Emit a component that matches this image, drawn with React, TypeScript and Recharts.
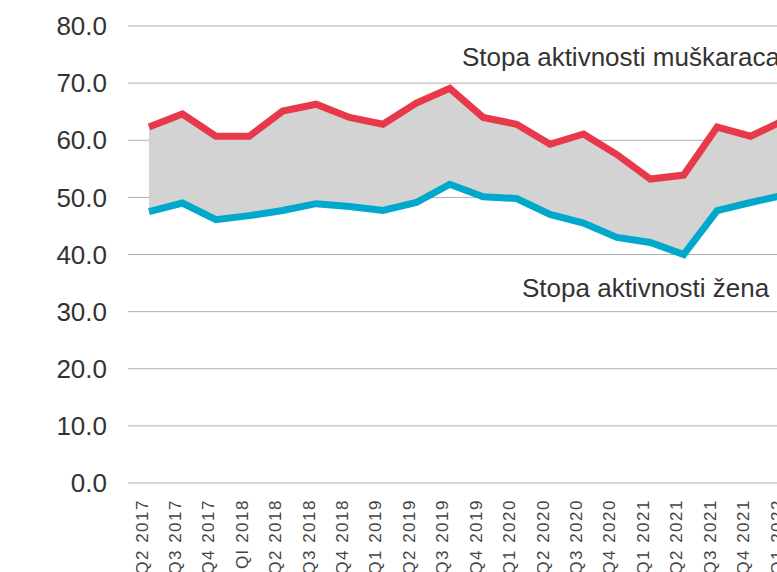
import React from 'react';
import { ComposedChart, Area, Line, XAxis, YAxis, CartesianGrid } from 'recharts';

const quarters = [
  'Q2 2017', 'Q3 2017', 'Q4 2017', 'Ql 2018', 'Q2 2018', 'Q3 2018', 'Q4 2018', 'Q1 2019',
  'Q2 2019', 'Q3 2019', 'Q4 2019', 'Q1 2020', 'Q2 2020', 'Q3 2020', 'Q4 2020', 'Q1 2021',
  'Q2 2021', 'Q3 2021', 'Q4 2021', 'Q1 2022',
];
const menRate = [
  62.3, 64.6, 60.7, 60.7, 65.1, 66.3, 64.0, 62.8, 66.5, 69.1,
  64.0, 62.8, 59.3, 61.1, 57.5, 53.2, 53.9, 62.3, 60.7, 63.5,
];
const womenRate = [
  47.5, 49.0, 46.1, 46.8, 47.7, 48.9, 48.4, 47.7, 49.1, 52.3,
  50.1, 49.8, 47.0, 45.5, 43.0, 42.1, 40.0, 47.7, 49.1, 50.4,
];
const yTicks = [0, 10, 20, 30, 40, 50, 60, 70, 80];

const menLabel = 'Stopa aktivnosti muškaraca';
const womenLabel = 'Stopa aktivnosti žena';

const data = quarters.map((q, i) => ({
  quarter: q,
  men: menRate[i],
  women: womenRate[i],
  gap: [womenRate[i], menRate[i]],
}));

const FONT = '"Liberation Sans", Arial, sans-serif';

const QuarterTick = ({ x, y, payload }: any) => {
  const tx = x - 7;
  return (
    <text
      x={tx}
      y={y}
      transform={`rotate(-90 ${tx} ${y})`}
      textAnchor="end"
      dominantBaseline="central"
      fontSize={17}
      letterSpacing={1.5}
      fill="#444"
      fontFamily={FONT}
    >
      {payload.value}
    </text>
  );
};

const noteStyle: React.CSSProperties = {
  position: 'absolute',
  fontFamily: FONT,
  fontSize: 26,
  lineHeight: '26px',
  color: '#333',
  whiteSpace: 'nowrap',
};

const App: React.FC = () => (
  <div
    style={{
      position: 'fixed',
      left: 0,
      top: 0,
      width: 777,
      height: 572,
      overflow: 'hidden',
      background: '#fff',
      fontFamily: FONT,
    }}
  >
    <ComposedChart
      width={826}
      height={572}
      data={data}
      margin={{ top: 26, right: 21, bottom: 0, left: 0 }}
    >
      <CartesianGrid vertical={false} stroke="#b0b0b0" strokeWidth={1} />
      <XAxis
        dataKey="quarter"
        scale="point"
        padding={{ left: 21, right: 21 }}
        interval={0}
        height={89}
        axisLine={false}
        tickLine={false}
        tickSize={0}
        tickMargin={16}
        tick={<QuarterTick />}
      />
      <YAxis
        domain={[0, 80]}
        ticks={yTicks}
        width={128}
        axisLine={false}
        tickLine={false}
        tickSize={0}
        tickMargin={21}
        tickFormatter={(v: number) => v.toFixed(1)}
        tick={{ fontSize: 26, fill: '#333', fontFamily: FONT }}
      />
      <Area
        dataKey="gap"
        fill="#d3d3d3"
        fillOpacity={1}
        stroke="none"
        isAnimationActive={false}
      />
      <Line
        dataKey="men"
        stroke="#e8394b"
        strokeWidth={7}
        dot={false}
        activeDot={false}
        isAnimationActive={false}
      />
      <Line
        dataKey="women"
        stroke="#00a9cb"
        strokeWidth={7}
        dot={false}
        activeDot={false}
        isAnimationActive={false}
      />
    </ComposedChart>
    <div style={{ ...noteStyle, left: 462, top: 44 }}>{menLabel}</div>
    <div style={{ ...noteStyle, left: 522, top: 275 }}>{womenLabel}</div>
  </div>
);

export default App;
